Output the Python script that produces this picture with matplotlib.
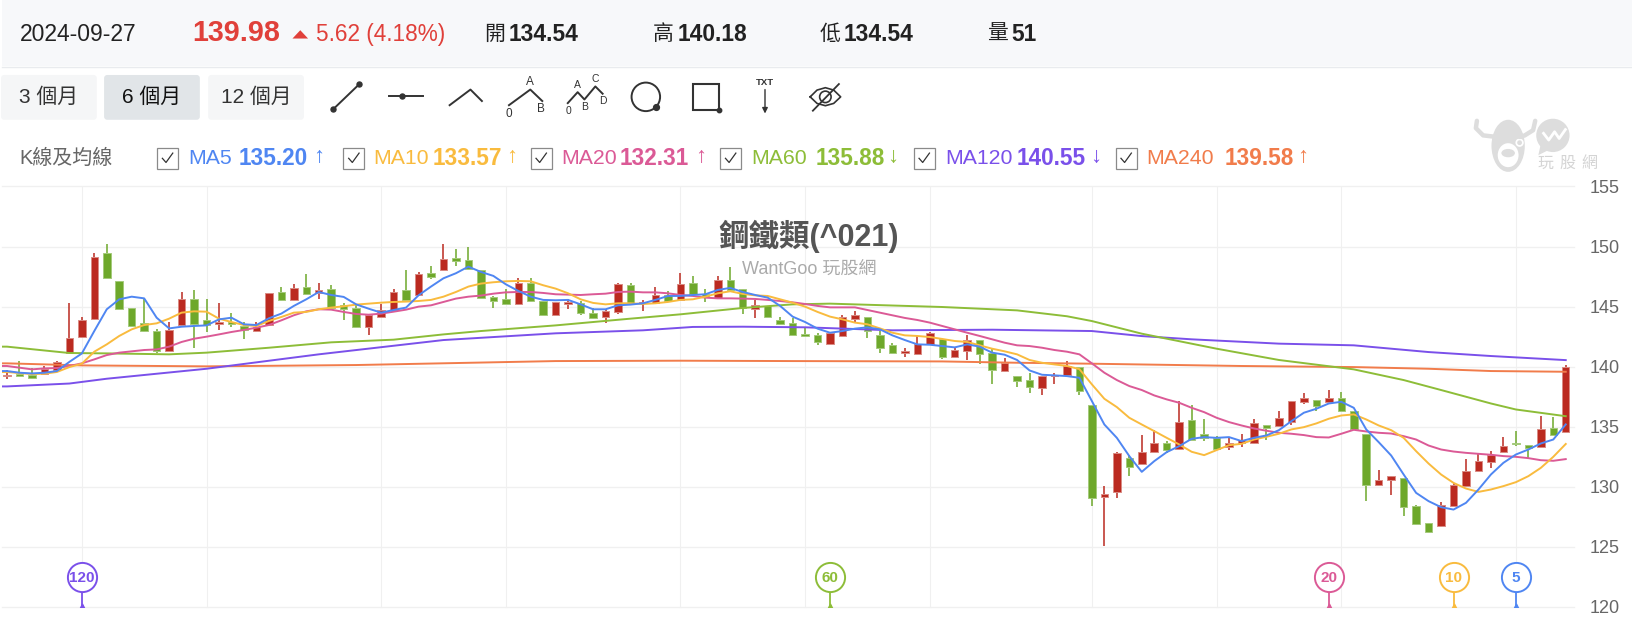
import matplotlib
matplotlib.use('Agg')
import matplotlib.pyplot as plt
from matplotlib.patches import Rectangle, FancyBboxPatch, Circle, Ellipse, Polygon

FONT = ['Liberation Sans', 'Noto Sans CJK TC', 'DejaVu Sans']
plt.rcParams['font.family'] = FONT

# daily candles
opens = [139.2, 139.36, 139.28, 139.36, 139.72, 141.17, 142.44, 143.94, 149.5, 147.14,
         144.89, 143.61, 143.0, 141.3, 143.44, 145.64, 143.86, 143.56, 143.75, 143.39,
         142.94, 143.44, 146.25, 145.56, 146.61, 146.11, 146.5, 145.1, 144.89, 143.31,
         144.17, 144.72, 146.39, 145.97, 147.78, 148.06, 149.03, 148.89, 148.03, 145.78,
         145.64, 145.19, 147.0, 145.47, 144.31, 145.19, 145.28, 144.5, 144.17, 144.56,
         146.78, 145.28, 145.28, 146.0, 145.56, 147.0, 146.06, 145.72, 147.25, 146.5,
         144.83, 145.06, 143.89, 143.61, 142.75, 142.61, 141.92, 142.56, 144.0, 144.14,
         142.64, 141.78, 141.17, 141.06, 141.92, 142.28, 140.81, 141.31, 142.25, 141.11,
         139.67, 139.25, 138.89, 138.19, 139.19, 139.28, 140.0, 136.78, 129.19, 129.56,
         132.42, 131.94, 132.92, 133.67, 133.19, 135.53, 134.39, 134.08, 133.33, 133.67,
         133.67, 135.11, 135.06, 135.42, 137.06, 137.25, 137.06, 137.36, 136.33, 134.36,
         130.19, 130.58, 130.75, 128.39, 127.0, 126.72, 128.42, 130.08, 131.33, 132.08,
         132.94, 133.64, 133.5, 133.33, 134.89, 134.54]
closes = [139.35, 139.2, 139.03, 139.78, 140.39, 142.36, 143.86, 149.11, 147.42, 144.81,
          143.39, 142.94, 141.28, 143.03, 145.61, 143.53, 143.47, 143.75, 143.58, 143.06,
          143.3, 146.11, 145.56, 146.53, 146.06, 146.39, 144.92, 144.8, 143.31, 144.28,
          144.75, 146.25, 145.56, 147.75, 147.44, 149.0, 148.81, 148.17, 145.69, 145.44,
          145.19, 147.0, 145.44, 144.31, 145.39, 145.39, 144.5, 144.06, 144.64, 146.92,
          145.33, 145.39, 146.0, 145.47, 146.86, 146.03, 145.78, 147.25, 146.39, 144.89,
          145.14, 144.17, 143.56, 142.67, 142.56, 142.06, 142.78, 144.14, 144.28, 143.0,
          141.56, 141.17, 141.28, 141.89, 142.78, 140.78, 141.39, 142.25, 141.06, 139.69,
          140.28, 138.81, 138.33, 139.25, 139.28, 140.06, 137.94, 129.06, 129.42, 132.78,
          131.69, 132.89, 133.67, 133.06, 135.39, 133.94, 134.08, 133.19, 133.64, 133.94,
          135.28, 134.94, 135.75, 137.14, 137.39, 136.69, 137.39, 136.33, 134.83, 130.19,
          130.61, 130.89, 128.31, 126.92, 126.22, 128.5, 130.14, 131.36, 132.14, 132.69,
          133.39, 133.56, 133.22, 134.78, 134.33, 139.98]
highs = [139.7, 140.47, 139.9, 140.06, 140.45, 145.28, 144.17, 149.5, 150.25, 147.14,
         144.89, 145.75, 143.11, 143.75, 146.25, 146.39, 145.67, 145.28, 144.5, 143.75,
         143.75, 146.11, 146.67, 146.89, 147.75, 147.0, 146.78, 145.28, 145.1, 144.3,
         145.25, 146.5, 148.03, 147.92, 148.42, 150.25, 149.78, 150.0, 148.03, 145.89,
         146.5, 147.39, 147.39, 145.5, 145.4, 145.67, 145.44, 144.92, 144.78, 147.0,
         146.94, 145.56, 146.67, 146.28, 147.78, 147.53, 146.5, 147.53, 148.28, 146.5,
         145.56, 145.06, 144.17, 144.03, 143.33, 142.83, 142.8, 144.28, 144.64, 144.14,
         142.97, 142.0, 141.53, 142.67, 142.89, 142.3, 141.61, 142.67, 142.25, 141.44,
         140.75, 139.25, 139.5, 139.25, 139.44, 140.47, 140.0, 136.78, 130.06, 132.89,
         132.61, 134.28, 134.72, 133.78, 137.14, 136.78, 135.67, 134.22, 134.03, 134.42,
         135.67, 135.11, 136.28, 137.14, 137.78, 137.25, 138.03, 137.92, 136.33, 134.36,
         131.39, 130.94, 130.75, 128.5, 127.0, 128.75, 130.28, 132.28, 132.75, 133.0,
         134.14, 134.64, 133.5, 135.89, 135.81, 140.18]
lows = [139.0, 139.2, 139.0, 139.3, 139.6, 141.17, 142.4, 143.9, 147.4, 144.8,
        143.33, 142.9, 141.17, 141.3, 143.4, 141.56, 142.92, 143.06, 143.3, 142.33,
        142.9, 143.4, 145.5, 145.5, 146.0, 145.67, 144.9, 143.92, 143.3, 142.67,
        144.1, 144.7, 145.5, 145.9, 147.33, 148.0, 148.42, 148.06, 145.7, 144.92,
        145.19, 145.1, 145.4, 144.31, 144.3, 144.78, 144.31, 144.0, 143.67, 144.42,
        145.3, 144.67, 145.2, 145.4, 145.5, 146.0, 145.39, 145.7, 146.3, 144.42,
        144.06, 144.1, 143.5, 142.6, 142.5, 141.81, 141.9, 142.5, 143.75, 142.39,
        141.17, 141.03, 140.81, 141.0, 141.9, 140.67, 140.8, 140.56, 140.19, 138.56,
        139.6, 138.31, 137.81, 137.67, 138.56, 139.2, 137.67, 128.44, 125.06, 129.06,
        130.94, 131.9, 132.9, 132.83, 133.1, 133.9, 133.81, 133.1, 133.06, 133.33,
        133.6, 133.89, 135.0, 135.14, 136.92, 136.33, 137.0, 136.3, 134.8, 128.81,
        130.1, 129.31, 127.56, 126.83, 126.2, 126.7, 128.4, 130.0, 131.3, 131.56,
        132.9, 133.44, 132.28, 133.3, 134.3, 134.54]

ma5 = [139.64, 139.5, 139.44, 139.5, 139.64, 140.4, 141.1, 142.97, 144.78, 145.61,
       145.83, 145.69, 144.08, 143.19, 143.33, 143.39, 143.44, 143.94, 144.08, 143.53,
       143.47, 144.03, 144.42, 145.06, 145.61, 146.22, 145.97, 145.81, 145.19, 144.83,
       144.5, 144.72, 144.92, 145.94, 146.67, 147.36, 147.78, 148.33, 147.89, 147.56,
       146.86, 146.31, 145.83, 145.56, 145.53, 145.56, 145.19, 144.78, 144.78, 145.11,
       145.17, 145.28, 145.56, 145.89, 145.89, 145.97, 146.03, 146.39, 146.56, 146.22,
       145.97, 145.75, 145.06, 144.17, 143.72, 143.17, 142.83, 142.97, 143.17, 143.28,
       143.11, 142.61, 142.22, 141.86, 141.83, 141.72, 141.61, 141.86, 141.67, 141.17,
       141.0, 140.56, 139.69, 139.33, 139.28, 139.22, 139.08, 137.14, 135.19, 134.08,
       132.56, 131.25, 132.14, 132.89, 133.39, 134.0, 134.14, 134.08, 134.14, 133.81,
       134.08, 134.28, 134.72, 135.47, 136.17, 136.5, 136.94, 137.08, 136.58, 134.78,
       133.72, 132.61, 131.03, 129.5, 128.81, 128.31, 128.11, 128.67, 129.78, 131.03,
       132.0, 132.69, 133.11, 133.61, 133.94, 135.2]
ma10 = [139.56, 139.47, 139.39, 139.42, 139.56, 139.97, 140.25, 141.25, 141.86, 142.56,
        143.11, 143.47, 143.61, 144.0, 144.5, 144.61, 144.58, 144.0, 143.72, 143.47,
        143.39, 143.81, 144.14, 144.5, 144.56, 144.78, 144.92, 145.03, 145.17, 145.25,
        145.33, 145.39, 145.42, 145.47, 145.56, 145.83, 146.22, 146.67, 146.92, 147.03,
        147.11, 147.14, 147.11, 146.78, 146.5, 146.11, 145.61, 145.31, 145.19, 145.28,
        145.28, 145.22, 145.28, 145.39, 145.56, 145.61, 145.83, 146.11, 146.28, 146.06,
        145.94, 145.89, 145.61, 145.33, 145.0, 144.56, 144.17, 143.94, 143.67, 143.53,
        143.19, 142.83, 142.61, 142.56, 142.47, 142.31, 142.14, 142.06, 141.78, 141.5,
        141.28, 141.03, 140.56, 140.33, 140.19, 140.06, 139.8, 138.53, 137.33, 136.64,
        135.75, 135.19, 134.64, 134.08, 133.53, 132.92, 132.64, 133.06, 133.47, 133.58,
        133.94, 134.17, 134.42, 134.78, 134.97, 135.28, 135.67, 135.94, 136.03, 135.61,
        135.11, 134.72, 134.08, 132.97, 131.94, 131.03, 130.33, 129.86, 129.58, 129.78,
        130.06, 130.39, 130.89, 131.58, 132.5, 133.57]
ma20 = [140.06, 139.92, 139.78, 139.86, 139.89, 140.06, 140.28, 140.61, 140.97, 141.17,
        141.28, 141.39, 141.44, 141.67, 142.06, 142.33, 142.5, 142.69, 142.89, 143.06,
        143.25, 143.47, 143.86, 144.28, 144.61, 144.78, 144.75, 144.56, 144.39, 144.33,
        144.42, 144.58, 144.75, 145.0, 145.11, 145.39, 145.67, 145.83, 145.92, 146.08,
        146.19, 146.22, 146.22, 146.14, 146.03, 146.0, 145.97, 146.03, 146.08, 146.22,
        146.25, 146.19, 146.19, 146.11, 145.97, 145.89, 145.75, 145.69, 145.69, 145.67,
        145.64, 145.56, 145.47, 145.36, 145.22, 145.06, 144.94, 144.94, 144.94, 144.72,
        144.5, 144.28, 144.06, 143.89, 143.67, 143.39, 143.11, 142.83, 142.56, 142.28,
        142.0, 141.78, 141.72, 141.58, 141.39, 141.25, 141.03, 140.28, 139.5, 138.89,
        138.39, 138.06, 137.61, 137.28, 137.0, 136.58, 136.22, 135.75, 135.39, 135.11,
        134.86, 134.67, 134.5, 134.42, 134.31, 134.14, 134.11, 134.42, 134.75, 134.61,
        134.5, 134.44, 134.22, 133.94, 133.44, 133.11, 132.94, 132.83, 132.75, 132.67,
        132.56, 132.5, 132.39, 132.22, 132.17, 132.31]

# slow averages: the bends of each line as they show in the picture
ma60_days = [0, 5, 8, 13, 16, 21, 26, 31, 35, 38, 44, 50, 54, 59, 63, 66, 75, 81, 85, 87,
             91, 97, 102, 108, 112, 115, 119, 121, 125]
ma60 = [141.67, 141.14, 141.11, 141.03, 141.17, 141.58, 142.03, 142.25, 142.69, 142.97,
        143.44, 144.0, 144.36, 144.89, 145.19, 145.25, 144.97, 144.69, 144.2, 143.8,
        142.75, 141.5, 140.56, 139.78, 138.89, 138.06, 136.94, 136.44, 135.88]
ma120_days = [0, 5, 8, 16, 25, 35, 44, 51, 55, 59, 64, 71, 79, 87, 91, 95, 102, 108, 114, 119, 125]
ma120 = [138.36, 138.6, 139.0, 139.83, 141.03, 142.22, 142.78, 143.03, 143.31, 143.33,
         143.28, 143.03, 143.08, 142.97, 142.55, 142.28, 141.92, 141.78, 141.22, 140.89, 140.55]
ma240_days = [0, 6, 16, 28, 44, 54, 63, 75, 81, 87, 99, 108, 114, 119, 125]
ma240 = [140.28, 140.11, 140.03, 140.14, 140.47, 140.5, 140.47, 140.44, 140.33, 140.25,
         140.06, 139.97, 139.83, 139.64, 139.58]

days = list(range(len(closes)))
grid_days = [6, 16, 30, 40, 54, 64, 74, 87, 97, 107, 121]
price_ticks = [120, 125, 130, 135, 140, 145, 150, 155]
pin_periods = [120, 60, 20, 10, 5]

BLUE, YELLOW, PINK = '#4f86f2', '#f9bb3e', '#db5a96'
LIME, PURPLE, ORANGE = '#8dbd38', '#7a50ea', '#f17c4b'
pin_colors = [PURPLE, LIME, PINK, YELLOW, BLUE]

legend_names = ['MA5', 'MA10', 'MA20', 'MA60', 'MA120', 'MA240']
legend_values = ['135.20', '133.57', '132.31', '135.88', '140.55', '139.58']
legend_arrows = ['↑', '↑', '↑', '↓', '↓', '↑']
legend_colors = [BLUE, YELLOW, PINK, LIME, PURPLE, ORANGE]

W, H = 1632, 628
fig = plt.figure(figsize=(W / 100, H / 100), dpi=100, facecolor='white')

# price chart, placed by pixels
left, right, top, bottom = 2, 1574, 186.5, 607
ax = fig.add_axes([left / W, 1 - bottom / H, (right - left) / W, (bottom - top) / H])
ax.set_xlim((left - 7) / 12.47, (right - 7) / 12.47)
ax.set_ylim(120, 155)
for s in ax.spines.values():
    s.set_visible(False)
ax.set_xticks(grid_days)
ax.set_xticklabels([])
ax.set_yticks(price_ticks)
ax.yaxis.tick_right()
ax.tick_params(length=0)
ax.tick_params(axis='y', labelsize=13, labelcolor='#666666', pad=11)
ax.grid(True, axis='y', color='#f0f0f0', lw=1.0, clip_on=False)
ax.grid(True, axis='x', color='#f0f0f0', lw=0.8, clip_on=False)
ax.set_axisbelow(True)

red, green = '#bb2a20', '#6ea82b'
colors = [red if c >= o else green for o, c in zip(opens, closes)]
edges = ['#d98b84' if c >= o else '#a5ca7c' for o, c in zip(opens, closes)]
ax.vlines(days, lows, highs, colors=colors, lw=1.1, zorder=3)
ax.bar(days, [abs(c - o) for o, c in zip(opens, closes)], bottom=[min(o, c) for o, c in zip(opens, closes)],
       width=0.6, color=colors, edgecolor=edges, linewidth=0.7, zorder=3)


def ma_line(xs, ys, col):
    # the lines run on to the left edge of the chart
    ax.plot([xs[0] - 0.4] + xs, [ys[0]] + ys, color=col, lw=1.4, zorder=4)


ma_line(ma240_days, ma240, ORANGE)
ma_line(ma120_days, ma120, PURPLE)
ma_line(ma60_days, ma60, LIME)
ma_line(days, ma20, PINK)
ma_line(days, ma10, YELLOW)
ma_line(days, ma5, BLUE)

# period pins on the bottom of the chart
for period, col in zip(pin_periods, pin_colors):
    d = len(closes) - period
    ax.plot([d, d], [120, 122.5], color=col, lw=1.3, zorder=5)
    ax.plot(d, 120.1, marker='^', ms=3.5, color=col, zorder=5)
    ax.plot(d, 122.5, marker='o', ms=21, mfc='white', mec=col, mew=1.4, zorder=6)
    ax.text(d, 122.45, str(period), color=col, fontsize=11, fontweight='bold',
            ha='center', va='center', zorder=7)

# everything around the chart, in the coordinates of the shrunk screenshot
ui = fig.add_axes([0, 0, 1, 1], facecolor='none')
ui.set_xlim(0, 1568)
ui.set_ylim(603, 0)
ui.axis('off')


def put(x, y, s, size, color='#333333', weight='normal', ha='left'):
    ui.text(x, y, s, fontsize=size, color=color, fontweight=weight, ha=ha, va='center', family=FONT)


ui.add_patch(Rectangle((1.5, 0), 1566.5, 63.5, fc='#f7f8fa', ec='none'))
ui.plot([1.5, 1568], [64, 64], color='#e9ebee', lw=1)

put(19, 33, '2024-09-27', 16.5, '#222222')
put(185, 32, '139.98', 20.7, '#e0403a', 'bold')
ui.add_patch(Polygon([(281, 37), (296, 37), (288.5, 29)], fc='#e0403a', ec='none'))
put(304, 33, '5.62 (4.18%)', 16.3, '#e0403a')
for x, label, val in [(465, '開', '134.54'), (627, '高', '140.18'), (787, '低', '134.54'), (948, '量', '51')]:
    put(x, 33, label, 15, '#222222')
    put(x + 24, 33, val, 16.4, '#222222', 'bold')

for x0, label, fc, col in [(1, '3 個月', '#f5f6f7', '#333333'), (100, '6 個月', '#e1e5e8', '#111111'),
                           (200, '12 個月', '#f5f6f7', '#333333')]:
    ui.add_patch(FancyBboxPatch((x0, 72), 92, 43, boxstyle='round,pad=0,rounding_size=3', fc=fc, ec='none'))
    put(x0 + 46, 93, label, 15, col, ha='center')

# toolbar icons
ic = '#333333'
ui.plot([320, 345], [105, 81], color=ic, lw=1.4)
ui.plot([320, 345], [105, 81], ls='none', marker='o', ms=3.6, color=ic)
ui.plot([374, 406], [92, 92], color=ic, lw=1.4)
ui.plot(386, 92, marker='o', ms=3.6, color=ic)
ui.plot([432, 452, 463], [101, 86, 97], color=ic, lw=1.4)
ui.plot([489, 509.5, 521], [101, 86, 97], color=ic, lw=1.4)
for x, y, s in [(509.5, 78.5, 'A'), (489, 109, '0'), (520, 105, 'B')]:
    put(x, y, s, 8.5, ic, ha='center')
ui.plot([545.5, 555, 561.5, 572, 579], [99, 88.5, 95.5, 83, 90], color=ic, lw=1.4)
for x, y, s in [(555, 82, 'A'), (572, 76, 'C'), (562, 102.5, 'B'), (579, 97, 'D'), (546, 106.5, '0')]:
    put(x, y, s, 7.5, ic, ha='center')
ui.add_patch(Circle((620.5, 93), 13.7, fc='none', ec=ic, lw=1.4))
ui.plot(630.7, 103, marker='o', ms=4.2, color=ic)
ui.add_patch(Rectangle((666, 80.7), 24.7, 25, fc='none', ec=ic, lw=1.5))
ui.plot(690.7, 105.7, marker='o', ms=3.2, color=ic)
put(735, 79.5, 'TXT', 6.8, ic, 'bold', ha='center')
ui.annotate('', xy=(735, 109), xytext=(735, 86), arrowprops=dict(arrowstyle='-|>', color=ic, lw=1, mutation_scale=8,
                                                                 shrinkA=0, shrinkB=0))
ui.plot([778.4, 785, 793, 801, 807.7, 801, 793, 785, 778.4], [93, 86.5, 84.2, 86.5, 93, 99.3, 101.5, 99.3, 93],
        color=ic, lw=1.2)
ui.add_patch(Circle((793, 93), 5.5, fc='none', ec=ic, lw=1.2))
ui.plot([781, 806], [106.3, 80.7], color=ic, lw=1.3)

# legend row
put(19, 152, 'K線及均線', 14.4, '#666666')
box_x = [151, 330, 510, 692, 878, 1072]
name_x = [181, 359, 539, 722, 908, 1101]
value_x = [229, 416, 595, 784, 977, 1177]
arrow_x = [306, 492, 673, 858, 1053, 1252]
for i in range(len(legend_names)):
    ui.add_patch(Rectangle((box_x[i], 142), 20, 20, fc='white', ec='#8a8a8a', lw=0.9))
    ui.plot([box_x[i] + 5, box_x[i] + 8.5, box_x[i] + 15], [152, 156, 147], color='#333333', lw=0.9)
    put(name_x[i], 152, legend_names[i], 15.3, legend_colors[i])
    put(value_x[i], 152, legend_values[i], 16.3, legend_colors[i], 'bold')
    put(arrow_x[i], 150, legend_arrows[i], 16, legend_colors[i], 'bold', ha='center')

# chart heading
put(777, 227, '鋼鐵類(^021)', 22, '#555555', 'bold', ha='center')
put(777, 259, 'WantGoo 玩股網', 13, '#aaaaaa', ha='center')

# watermark logo
wm = '#dddddd'
ui.plot([1419, 1418, 1425, 1438], [116, 123, 130, 131.5], color=wm, lw=3.2, solid_capstyle='round')
ui.plot([1475, 1473, 1465, 1460], [116, 125, 130, 131.5], color=wm, lw=3.2, solid_capstyle='round')
ui.add_patch(Ellipse((1449, 140), 32, 50, fc=wm, ec='none'))
ui.add_patch(Ellipse((1449, 149), 20, 23, fc='white', ec='none'))
ui.add_patch(Ellipse((1449, 147), 13, 8, fc=wm, ec='none'))
ui.add_patch(Circle((1460, 137), 4, fc='white', ec='none'))
ui.add_patch(Circle((1460, 137), 2.3, fc=wm, ec='none'))
ui.add_patch(Circle((1492, 130), 16, fc=wm, ec='none'))
ui.add_patch(Polygon([(1480, 140), (1478, 149), (1488, 144)], fc=wm, ec='none'))
ui.plot([1483, 1488, 1493.6, 1498, 1504], [128, 134.5, 126.5, 133, 124.4], color='white', lw=2)
for x, ch in [(1485, '玩'), (1506, '股'), (1527, '網')]:
    put(x, 157, ch, 11.5, '#d4d4d4', ha='center')

fig.savefig('out.png', dpi=100)
